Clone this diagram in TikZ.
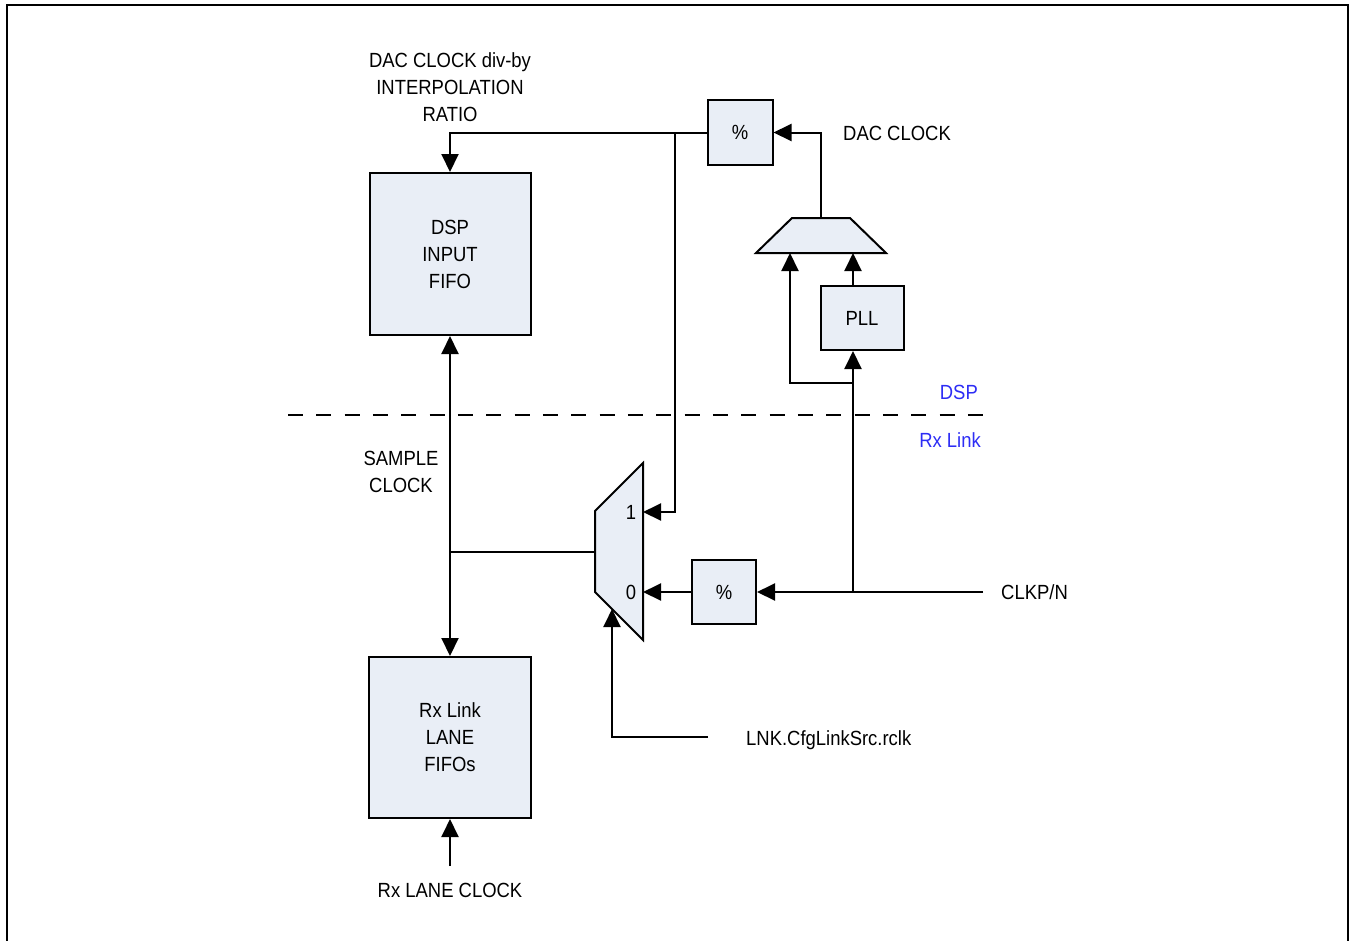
\documentclass[tikz,border=0pt]{standalone}
\usepackage{fontspec}
\setmainfont[FakeStretch=0.9]{Liberation Sans}
\usetikzlibrary{arrows.meta}
\definecolor{blockfill}{RGB}{233,238,246}
\definecolor{domainblue}{RGB}{45,45,245}
\newcommand{\diagfont}{\fontsize{20.5pt}{27pt}\selectfont}

\begin{document}
\begin{tikzpicture}[x=1pt,y=-1pt,>={Triangle[length=18pt,width=17pt]},
  every node/.style={font=\diagfont,inner sep=0pt,align=center},
  blockbox/.style={draw,line width=2pt,fill=blockfill},
  sig/.style={line width=2pt}]
\useasboundingbox (0,0) rectangle (1351,940);
\draw[line width=2.5pt] (7,5) rectangle (1348,960);
% blocks
\node[blockbox,minimum width=161pt,minimum height=162pt] (dspfifo) at (450,254) {DSP\\INPUT\\FIFO};
\node[blockbox,minimum width=162pt,minimum height=161pt] (rxfifo) at (450,737.5) {Rx Link\\LANE\\FIFOs};
\node[blockbox,minimum width=65pt,minimum height=65pt] (divtop) at (740,132.5) {\%};
\node[blockbox,minimum width=64pt,minimum height=64pt] (divclk) at (724,592) {\%};
\node[blockbox,minimum width=83pt,minimum height=64pt] (pll) at (862,318) {PLL};
% muxes
\draw[blockbox] (643,463) -- (595,511) -- (595,592) -- (643,640) -- cycle;
\draw[blockbox] (756,253) -- (792,218) -- (850,218) -- (886,253) -- cycle;
\coordinate (lmuxin1) at (643,512);
\coordinate (lmuxin0) at (643,592);
\coordinate (lmuxsel) at (612,609);
\coordinate (lmuxout) at (595,552);
\coordinate (umuxout) at (821,218);
\coordinate (umuxa) at (790,253);
\coordinate (umuxb) at (853,253);
\node (sel1) at (631,512) {1};
\node (sel0) at (631,592) {0};
% clock paths
\coordinate (tapdiv) at (675,132.5);
\coordinate (plltap) at (853,383);
\coordinate (clktap) at (853,592);
\coordinate (clkin) at (983,592);
\coordinate (lnkend) at (708,737);
\coordinate (sclk) at (450,552);
\coordinate (laneclk) at (450,866);
\draw[sig,->] (divtop.west) -| (dspfifo.north);
\draw[sig,->] (tapdiv) |- (lmuxin1);
\draw[sig,->] (umuxout) |- (divtop.east);
\draw[sig,->] (umuxb |- pll.north) -- (umuxb);
\draw[sig,->] (plltap) -| (umuxa);
\draw[sig,->] (clktap) -- (clktap |- pll.south);
\draw[sig,->] (clkin) -- (divclk.east);
\draw[sig,->] (divclk.west) -- (lmuxin0);
\draw[sig,->] (lnkend) -| (lmuxsel);
\draw[sig] (lmuxout) -- (sclk);
\draw[sig,->] (sclk) -- (dspfifo.south);
\draw[sig,->] (sclk) -- (rxfifo.north);
\draw[sig,->] (laneclk) -- (rxfifo.south);
% domain boundary
\draw[line width=1.5pt,dash pattern=on 15pt off 13.33pt] (288,415) -- (983,415);
\node[text=domainblue,anchor=east] (dsplabel) at (978,392) {DSP};
\node[text=domainblue,anchor=east] (rxlabel) at (981,440) {Rx Link};
% labels
\node (divlabel) at (450,87) {DAC CLOCK div-by\\INTERPOLATION\\RATIO};
\node (dacclk) at (897,133) {DAC CLOCK};
\node (samplelabel) at (401,472) {SAMPLE\\CLOCK};
\node[anchor=west] (clklabel) at (1001,592) {CLKP/N};
\node[anchor=base west] (lnklabel) at (746,745) {LNK.CfgLinkSrc.rclk};
\node (lanelabel) at (450,890) {Rx LANE CLOCK};
\end{tikzpicture}
\end{document}
